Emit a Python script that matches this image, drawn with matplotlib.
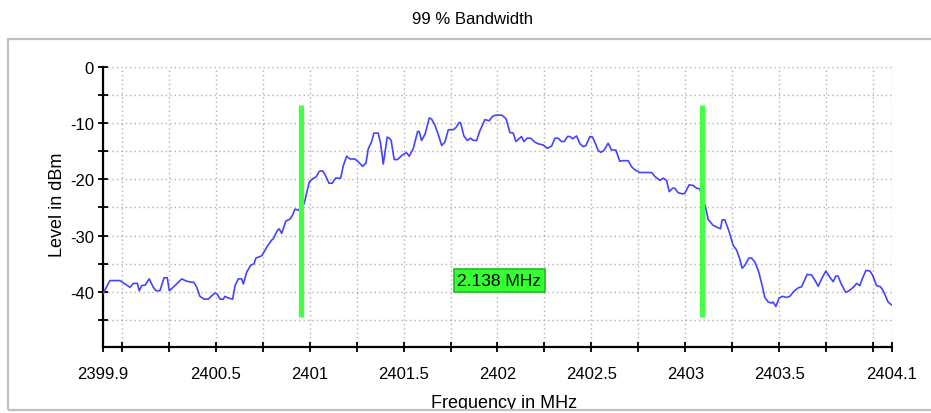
import matplotlib
matplotlib.use("Agg")
import matplotlib.pyplot as plt
from matplotlib.patches import Rectangle
import numpy as np

plt.rcParams['font.family'] = ['Liberation Sans', 'DejaVu Sans']

# ---- data ----
freq_mhz = [
    2399.902, 2399.937, 2399.990, 2400.017, 2400.044, 2400.061, 2400.083, 2400.093, 2400.106, 2400.124,
    2400.146, 2400.168, 2400.182, 2400.203, 2400.225, 2400.242, 2400.253, 2400.283, 2400.319, 2400.345,
    2400.372, 2400.384, 2400.399, 2400.416, 2400.438, 2400.460, 2400.479, 2400.496, 2400.508, 2400.523,
    2400.540, 2400.549, 2400.567, 2400.590,
    2400.603, 2400.620, 2400.638, 2400.647, 2400.665, 2400.686, 2400.704, 2400.714, 2400.745, 2400.771,
    2400.798, 2400.806, 2400.828, 2400.838, 2400.851, 2400.874, 2400.895, 2400.910, 2400.922, 2400.939,
    2400.954, 2400.970, 2400.998, 2401.016, 2401.034, 2401.051, 2401.069, 2401.081, 2401.103, 2401.120,
    2401.138, 2401.165, 2401.179, 2401.197, 2401.215, 2401.241, 2401.259, 2401.282, 2401.300, 2401.312,
    2401.330, 2401.342, 2401.365, 2401.378, 2401.392, 2401.413, 2401.424, 2401.434, 2401.450, 2401.468,
    2401.490, 2401.507, 2401.516, 2401.530, 2401.551, 2401.575, 2401.583, 2401.596, 2401.614, 2401.637,
    2401.649, 2401.667, 2401.684, 2401.703, 2401.720, 2401.738, 2401.764, 2401.779, 2401.796, 2401.804,
    2401.821, 2401.839, 2401.857, 2401.871, 2401.889, 2401.906, 2401.933, 2401.956, 2401.974, 2401.992,
    2402.022, 2402.045, 2402.066, 2402.084, 2402.098, 2402.128, 2402.141, 2402.158,
    2402.176, 2402.199, 2402.217, 2402.243, 2402.265, 2402.288, 2402.306, 2402.323, 2402.341, 2402.355,
    2402.373, 2402.385, 2402.400, 2402.421, 2402.439, 2402.456, 2402.471, 2402.492, 2402.506, 2402.518,
    2402.536, 2402.550, 2402.566, 2402.589, 2402.607, 2402.630, 2402.651, 2402.666, 2402.696, 2402.714,
    2402.731, 2402.758, 2402.790, 2402.820, 2402.838, 2402.864, 2402.882, 2402.900, 2402.914, 2402.932,
    2402.944, 2402.962, 2402.985, 2402.997, 2403.020, 2403.042, 2403.060, 2403.077, 2403.088,
    2403.108, 2403.121, 2403.148, 2403.187, 2403.196, 2403.210, 2403.233, 2403.254, 2403.273, 2403.290,
    2403.302, 2403.317, 2403.338, 2403.352, 2403.370, 2403.391, 2403.411, 2403.423, 2403.441, 2403.459,
    2403.467, 2403.482, 2403.499, 2403.517, 2403.539, 2403.556, 2403.578, 2403.600, 2403.619, 2403.648,
    2403.672, 2403.689, 2403.707, 2403.728, 2403.748, 2403.769, 2403.787, 2403.801, 2403.813, 2403.831,
    2403.854, 2403.872, 2403.897, 2403.911, 2403.929, 2403.943, 2403.961, 2403.982, 2403.996, 2404.018,
    2404.039, 2404.056, 2404.079, 2404.097,
]
level_dbm = [
    -40.2, -38.0, -38.0, -38.6, -39.2, -38.5, -38.5, -39.8, -38.9, -38.8,
    -37.7, -39.2, -39.8, -39.8, -37.5, -37.5, -39.8, -38.9, -37.7, -38.1,
    -38.3, -38.3, -39.2, -40.8, -41.3, -41.3, -40.7, -40.2, -40.4, -41.3,
    -41.3, -40.8, -41.1, -41.3,
    -38.9, -37.7, -37.7, -38.6, -36.5, -35.3, -35.0, -34.0, -33.6, -32.1,
    -30.8, -30.6, -29.1, -28.8, -29.6, -27.4, -27.1, -26.3, -25.3, -25.5,
    -25.0, -24.4, -20.5, -19.9, -19.6, -18.6, -18.5, -19.1, -20.7, -20.7,
    -19.8, -19.8, -17.6, -15.9, -16.4, -16.4, -16.9, -17.7, -17.1, -14.6,
    -13.3, -11.8, -11.8, -13.7, -17.3, -12.5, -12.7, -13.1, -16.5, -16.5,
    -15.8, -15.4, -15.3, -15.9, -14.6, -11.5, -11.5, -13.1, -12.0, -9.1,
    -9.3, -10.4, -12.0, -14.0, -13.4, -11.2, -11.2, -10.8, -9.9, -10.0,
    -12.3, -13.1, -12.7, -13.1, -13.1, -11.4, -9.4, -9.6, -8.8, -8.6,
    -8.6, -9.2, -11.7, -11.8, -13.3, -12.4, -13.3, -12.7,
    -12.7, -13.4, -13.7, -13.9, -14.5, -14.1, -12.7, -12.7, -13.3, -13.3,
    -12.4, -12.4, -12.8, -12.3, -13.7, -14.2, -14.0, -12.4, -12.5, -13.4,
    -14.9, -15.2, -14.9, -13.6, -14.8, -14.8, -16.8, -16.7, -16.7, -17.8,
    -18.3, -18.8, -18.8, -18.8, -19.5, -20.2, -19.8, -20.2, -22.2, -21.6,
    -21.6, -22.4, -22.6, -22.5, -21.0, -21.1, -21.6, -21.7, -23.0,
    -25.0, -27.1, -28.2, -28.8, -27.2, -27.2, -29.3, -31.7, -32.6, -34.2,
    -35.8, -35.3, -34.0, -34.0, -34.7, -36.5, -39.2, -41.0, -41.8, -42.0,
    -41.8, -42.6, -41.1, -40.8, -41.0, -40.8, -39.9, -39.3, -39.1, -36.9,
    -37.0, -37.9, -39.0, -37.5, -36.3, -37.4, -38.2, -37.2, -37.2, -38.7,
    -40.1, -39.8, -39.1, -38.5, -38.9, -37.6, -36.2, -36.3, -37.0, -38.9,
    -39.1, -40.0, -41.8, -42.3,
]

marker_freqs = [2400.953, 2403.091]
marker_top = -6.8
marker_bottom = -44.5
bandwidth_label = "2.138 MHz"
label_pos = (2402.01, -38.0)

x_ticks = [2399.9, 2400.0, 2400.25, 2400.5, 2400.75, 2401.0, 2401.25, 2401.5, 2401.75,
           2402.0, 2402.25, 2402.5, 2402.75, 2403.0, 2403.25, 2403.5, 2403.75, 2404.0, 2404.1]
x_labels = ["2399.9", "", "", "2400.5", "", "2401", "", "2401.5", "",
            "2402", "", "2402.5", "", "2403", "", "2403.5", "", "", "2404.1"]
y_ticks = [0, -5, -10, -15, -20, -25, -30, -35, -40, -45]
y_labels = ["0", "", "-10", "", "-20", "", "-30", "", "-40", ""]

# ---- figure ----
W, H = 931, 414
fig = plt.figure(figsize=(W / 100, H / 100), dpi=100)
ax = fig.add_axes([103 / W, (H - 348) / H, (892 - 103) / W, (348 - 67.7) / H])

ax.set_xlim(2399.9, 2404.1)
ax.set_ylim(-49.8, 0)

ax.grid(True, color='#b0b0b0', linestyle=(0, (1, 2.2)), linewidth=1.0)
ax.set_axisbelow(True)

ax.plot(freq_mhz, level_dbm, color='#4444ff', linewidth=1.2, zorder=3)

for f in marker_freqs:
    ax.plot([f, f], [marker_bottom, marker_top], color='#44ff44', linewidth=3.8,
            solid_capstyle='butt', zorder=4)

ax.text(label_pos[0], label_pos[1], bandwidth_label, ha='center', va='center', fontsize=12.5,
        color='black', zorder=5,
        bbox=dict(boxstyle='square,pad=0.22', facecolor='#33ff33', edgecolor='#22bb22', linewidth=1.2))

ax.set_xticks(x_ticks)
ax.set_xticklabels(x_labels)
ax.set_yticks(y_ticks)
ax.set_yticklabels(y_labels)

for s in ['top', 'right']:
    ax.spines[s].set_visible(False)
for s in ['left', 'bottom']:
    ax.spines[s].set_linewidth(1.6)
    ax.spines[s].set_color('black')

ax.tick_params(axis='both', direction='inout', length=7, width=1.3, colors='black', labelsize=12)
ax.tick_params(axis='x', pad=10.5)
ax.tick_params(axis='y', pad=3)

# title and axis labels
fig.text(473 / W, 1 - 24 / H, "99 % Bandwidth", ha='center', va='baseline', fontsize=12)
fig.text(504 / W, 1 - 408.5 / H, "Frequency in MHz", ha='center', va='baseline', fontsize=13)
fig.text(62 / W, 1 - 205 / H, "Level in dBm", ha='center', va='baseline', rotation=90,
         rotation_mode='anchor', fontsize=13)

# outer frame (clips the x label at its bottom edge)
fig.add_artist(Rectangle((0, 0), 1, 1 - 411 / H, transform=fig.transFigure,
                         facecolor='white', edgecolor='none', zorder=5))
fig.add_artist(Rectangle((8 / W, 1 - 410.5 / H), (945 - 8) / W, (410.5 - 40) / H,
                         transform=fig.transFigure, facecolor='none', edgecolor='#c0c0c0',
                         linewidth=1.6, zorder=6))

fig.savefig("out.png", dpi=100)
